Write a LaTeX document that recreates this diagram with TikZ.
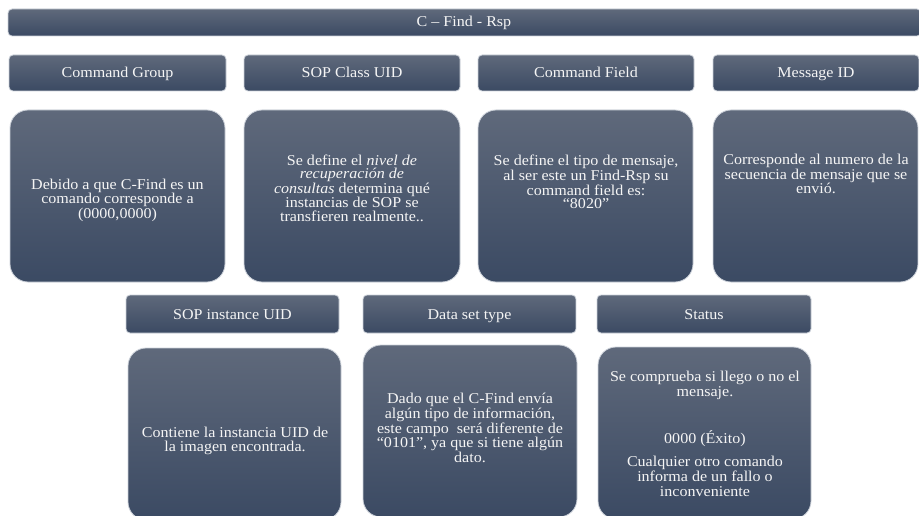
\documentclass[tikz,border=0pt]{standalone}
\usepackage{fontspec}
\setmainfont{Liberation Serif}[FakeStretch=1.07]
\definecolor{slatetop}{RGB}{95,105,123}
\definecolor{slatebot}{RGB}{59,74,99}
\definecolor{rimcol}{RGB}{205,210,218}
\definecolor{inkcol}{RGB}{245,245,245}
\tikzset{
  panel/.style={draw=rimcol, line width=0.8pt, top color=slatetop, bottom color=slatebot,
    inner sep=0pt, outer sep=0pt, anchor=north west},
  headbar/.style={panel, rounded corners=4pt},
  bodybox/.style={panel, rounded corners=18pt},
  headtxt/.style={text=inkcol, font=\fontsize{15}{15}\selectfont,
    text height=0.72em, text depth=0.22em, inner sep=0pt},
  bodytxt/.style={text=inkcol, align=center, font=\fontsize{15}{13.4}\selectfont},
  statustxt/.style={bodytxt, font=\fontsize{15}{15}\selectfont}
}
\begin{document}
\begin{tikzpicture}[x=1pt,y=-1pt]
\useasboundingbox (0,0) rectangle (919,516);
\clip (0,0) rectangle (919,516);

% title bar
\node[headbar, minimum width=913pt, minimum height=27pt] (title) at (8,9) {};
\node[headtxt] (titletxt) at (464,24) {C -- Find - Rsp};

% first row: headers
\node[headbar, minimum width=217pt, minimum height=36pt] (h1) at (9,55) {};
\node[headbar, minimum width=216pt, minimum height=36pt] (h2) at (244,55) {};
\node[headbar, minimum width=216pt, minimum height=36pt] (h3) at (478,55) {};
\node[headbar, minimum width=206pt, minimum height=36pt] (h4) at (713,55) {};
\node[headtxt] (h1t) at ([yshift=-2.5pt]h1.center) {Command Group};
\node[headtxt] (h2t) at ([yshift=-2.5pt]h2.center) {SOP Class UID};
\node[headtxt] (h3t) at ([yshift=-2.5pt]h3.center) {Command Field};
\node[headtxt] (h4t) at ([yshift=-2.5pt]h4.center) {Message ID};

% first row: descriptions
\node[bodybox, minimum width=215pt, minimum height=172pt] (b1) at (10,110) {};
\node[bodybox, minimum width=216pt, minimum height=172pt] (b2) at (244,110) {};
\node[bodybox, minimum width=215pt, minimum height=172pt] (b3) at (478,110) {};
\node[bodybox, minimum width=205pt, minimum height=172pt] (b4) at (713,110) {};

\node[bodytxt] (b1t) at (117.5,200) {Debido a que C-Find es un\\comando corresponde a\\(0000,0000)};
\node[bodytxt] (b2t) at (352,188) {Se define el \textit{nivel de}\\\textit{recuperación de}\\\textit{consultas} determina qué\\instancias de SOP se\\transfieren realmente..};
\node[bodytxt] (b3t) at (586,182) {Se define el tipo de mensaje,\\al ser este un Find-Rsp su\\command field es:\\“8020”};
\node[bodytxt] (b4t) at (816,174) {Corresponde al numero de la\\secuencia de mensaje que se\\envió.};

% second row: headers
\node[headbar, minimum width=213pt, minimum height=38pt] (h5) at (126,295) {};
\node[headbar, minimum width=213pt, minimum height=38pt] (h6) at (363,295) {};
\node[headbar, minimum width=214pt, minimum height=38pt] (h7) at (597,295) {};
\node[headtxt] (h5t) at ([yshift=-2.5pt]h5.center) {SOP instance UID};
\node[headtxt] (h6t) at ([yshift=-2.5pt]h6.center) {Data set type};
\node[headtxt] (h7t) at ([yshift=-2.5pt]h7.center) {Status};

% second row: descriptions
\node[bodybox, minimum width=213pt, minimum height=172pt] (b5) at (128,348) {};
\node[bodybox, minimum width=214pt, minimum height=172pt] (b6) at (363,345) {};
\node[bodybox, minimum width=213pt, minimum height=172pt] (b7) at (598,347) {};

\node[bodytxt] (b5t) at (235,441) {Contiene la instancia UID de\\la imagen encontrada.};
\node[bodytxt] (b6t) at (470,428) {Dado que el C-Find envía\\algún tipo de información,\\este campo\ \ será diferente de\\“0101”, ya que si tiene algún\\dato.};
\node[statustxt] (b7t) at (705,434) {Se comprueba si llego o no el\\mensaje.\\[30pt]0000 (Éxito)\\[8pt]Cualquier otro comando\\informa de un fallo o\\inconveniente};
\end{tikzpicture}
\end{document}
